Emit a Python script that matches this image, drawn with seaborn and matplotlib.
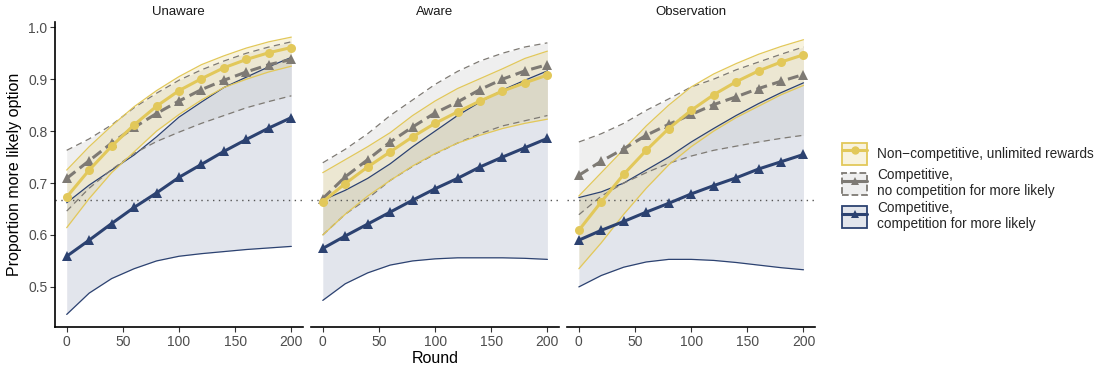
import numpy as np
import pandas as pd
import seaborn as sns
import matplotlib.pyplot as plt
from matplotlib.colors import to_rgb
from matplotlib.patches import Patch
from matplotlib.lines import Line2D
from matplotlib.legend_handler import HandlerTuple

sns.set_theme(style="white")
plt.rcParams['font.family'] = ['Liberation Sans', 'DejaVu Sans']

rounds = [0, 20, 40, 60, 80, 100, 120, 140, 160, 180, 200]
panels = ["Unaware", "Aware", "Observation"]

# Non-competitive, unlimited rewards
noncomp_mean = {
    "Unaware":     [0.673, 0.725, 0.771, 0.812, 0.848, 0.878, 0.901, 0.922, 0.938, 0.951, 0.961],
    "Aware":       [0.664, 0.699, 0.731, 0.760, 0.789, 0.815, 0.837, 0.858, 0.877, 0.893, 0.908],
    "Observation": [0.609, 0.664, 0.717, 0.763, 0.805, 0.840, 0.870, 0.895, 0.916, 0.933, 0.947],
}
noncomp_hi = {
    "Unaware":     [0.725, 0.770, 0.810, 0.847, 0.878, 0.905, 0.928, 0.945, 0.960, 0.972, 0.981],
    "Aware":       [0.720, 0.745, 0.770, 0.797, 0.830, 0.858, 0.882, 0.901, 0.920, 0.940, 0.954],
    "Observation": [0.675, 0.720, 0.765, 0.810, 0.850, 0.885, 0.910, 0.930, 0.948, 0.963, 0.976],
}
noncomp_lo = {
    "Unaware":     [0.614, 0.670, 0.720, 0.760, 0.800, 0.832, 0.860, 0.884, 0.900, 0.914, 0.925],
    "Aware":       [0.600, 0.640, 0.675, 0.705, 0.733, 0.757, 0.777, 0.792, 0.805, 0.815, 0.823],
    "Observation": [0.535, 0.585, 0.640, 0.690, 0.735, 0.770, 0.800, 0.826, 0.848, 0.870, 0.888],
}

# Competitive, no competition for more likely
nocomp_mean = {
    "Unaware":     [0.709, 0.743, 0.777, 0.807, 0.834, 0.858, 0.880, 0.898, 0.914, 0.928, 0.938],
    "Aware":       [0.670, 0.712, 0.745, 0.779, 0.808, 0.835, 0.856, 0.880, 0.900, 0.916, 0.928],
    "Observation": [0.715, 0.742, 0.766, 0.792, 0.813, 0.832, 0.851, 0.866, 0.882, 0.896, 0.909],
}
nocomp_hi = {
    "Unaware":     [0.763, 0.785, 0.812, 0.845, 0.873, 0.898, 0.918, 0.935, 0.950, 0.962, 0.972],
    "Aware":       [0.739, 0.765, 0.795, 0.830, 0.860, 0.890, 0.915, 0.935, 0.950, 0.962, 0.970],
    "Observation": [0.779, 0.795, 0.815, 0.840, 0.862, 0.885, 0.900, 0.918, 0.933, 0.948, 0.962],
}
nocomp_lo = {
    "Unaware":     [0.646, 0.690, 0.726, 0.757, 0.780, 0.798, 0.815, 0.830, 0.845, 0.857, 0.868],
    "Aware":       [0.600, 0.640, 0.670, 0.705, 0.732, 0.756, 0.777, 0.795, 0.810, 0.820, 0.830],
    "Observation": [0.639, 0.675, 0.700, 0.720, 0.738, 0.752, 0.763, 0.771, 0.779, 0.786, 0.792],
}

# Competitive, competition for more likely
comp_mean = {
    "Unaware":     [0.559, 0.590, 0.622, 0.653, 0.681, 0.711, 0.736, 0.761, 0.784, 0.806, 0.826],
    "Aware":       [0.574, 0.598, 0.621, 0.644, 0.667, 0.689, 0.709, 0.731, 0.750, 0.768, 0.786],
    "Observation": [0.590, 0.609, 0.626, 0.644, 0.661, 0.679, 0.695, 0.710, 0.727, 0.741, 0.755],
}
comp_hi = {
    "Unaware":     [0.662, 0.696, 0.725, 0.754, 0.789, 0.827, 0.856, 0.884, 0.904, 0.924, 0.942],
    "Aware":       [0.667, 0.686, 0.709, 0.737, 0.770, 0.800, 0.830, 0.856, 0.879, 0.898, 0.916],
    "Observation": [0.672, 0.683, 0.700, 0.725, 0.750, 0.779, 0.805, 0.830, 0.853, 0.874, 0.893],
}
comp_lo = {
    "Unaware":     [0.447, 0.488, 0.516, 0.535, 0.550, 0.559, 0.564, 0.568, 0.572, 0.575, 0.578],
    "Aware":       [0.474, 0.506, 0.527, 0.542, 0.550, 0.554, 0.556, 0.556, 0.556, 0.555, 0.553],
    "Observation": [0.500, 0.522, 0.538, 0.548, 0.553, 0.553, 0.551, 0.547, 0.542, 0.537, 0.533],
}

chance = 2 / 3
x_ticks = [0, 50, 100, 150, 200]
y_ticks = [0.5, 0.6, 0.7, 0.8, 0.9, 1.0]

YELLOW = "#E2C85A"
GREY = "#7E7A74"
NAVY = "#2C4271"

series = [
    dict(label="Non\u2212competitive, unlimited rewards", mean=noncomp_mean, hi=noncomp_hi, lo=noncomp_lo,
         color=YELLOW, fill="#E6D27E", falpha=0.25, ls="-", marker="o", ms=6.5, edge_ls="-"),
    dict(label="Competitive,\nno competition for more likely", mean=nocomp_mean, hi=nocomp_hi, lo=nocomp_lo,
         color=GREY, fill="#B8B8B8", falpha=0.22, ls=(0, (3.6, 1.8)), marker="^", ms=7, edge_ls=(0, (5, 3.5))),
    dict(label="Competitive,\ncompetition for more likely", mean=comp_mean, hi=comp_hi, lo=comp_lo,
         color=NAVY, fill="#9AA2BC", falpha=0.28, ls="-", marker="^", ms=7, edge_ls="-"),
]

fig, axes = plt.subplots(1, 3, figsize=(10.98, 3.74), dpi=100, sharey=True)
fig.subplots_adjust(left=0.050, right=0.742, bottom=0.126, top=0.941, wspace=0.034)

draw_order = [2, 1, 0]
for ax, panel in zip(axes, panels):
    # confidence ribbons
    for i in draw_order:
        s = series[i]
        ax.fill_between(rounds, s["lo"][panel], s["hi"][panel], color=s["fill"], alpha=s["falpha"],
                        linewidth=0, zorder=1)
    for i in draw_order:
        s = series[i]
        for bound in (s["lo"][panel], s["hi"][panel]):
            ax.plot(rounds, bound, color=s["color"], lw=0.9, ls=s["edge_ls"], zorder=2)
    ax.axhline(chance, color="#555555", lw=1.0, ls=(0, (1, 3.2)), zorder=2.5)
    # fitted means
    for i in draw_order:
        s = series[i]
        df = pd.DataFrame({"Round": rounds, "p": s["mean"][panel]})
        sns.lineplot(data=df, x="Round", y="p", ax=ax, color=s["color"], lw=2.2,
                     marker=s["marker"], markersize=s["ms"], markeredgewidth=0,
                     linestyle=s["ls"], zorder=3)

    ax.set_xlim(-10.5, 210)
    ax.set_ylim(0.423, 1.01)
    ax.set_xticks(x_ticks)
    ax.set_xticklabels([str(t) for t in x_ticks])
    ax.set_yticks(y_ticks)
    ax.set_yticklabels([f"{t:.1f}" for t in y_ticks])
    ax.tick_params(axis="both", labelsize=10, labelcolor="#4D4D4D", colors="#333333",
                   length=3.5, width=0.8, pad=2)
    ax.tick_params(axis="x", bottom=True)
    ax.set_title(panel, fontsize=9.5, color="#1A1A1A", pad=5)
    for side in ("top", "right"):
        ax.spines[side].set_visible(False)
    ax.spines["bottom"].set_color("black")
    ax.spines["bottom"].set_linewidth(1.2)
    ax.set_xlabel("")
    ax.set_ylabel("")

axes[0].spines["left"].set_color("black")
axes[0].spines["left"].set_linewidth(1.2)
axes[0].tick_params(axis="y", left=True)
for ax in axes[1:]:
    ax.spines["left"].set_visible(False)
    ax.tick_params(axis="y", left=False, labelleft=False)

axes[0].set_ylabel("Proportion more likely option", fontsize=11.5, color="black", labelpad=4)
axes[1].set_xlabel("Round", fontsize=11.5, color="black", labelpad=2)

handles = []
labels = []
for s in series:
    patch = Patch(facecolor=(*to_rgb(s["fill"]), s["falpha"]), edgecolor=s["color"], linewidth=1.3,
                  linestyle="--" if s["edge_ls"] != "-" else "-")
    line = Line2D([], [], color=s["color"], lw=2.2, marker=s["marker"], markersize=6,
                  markeredgewidth=0)
    handles.append((patch, line))
    labels.append(s["label"])

fig.legend(handles, labels, handler_map={tuple: HandlerTuple(ndivide=1)},
           loc="center left", bbox_to_anchor=(0.762, 0.50), frameon=False,
           fontsize=9.8, handlelength=1.85, handleheight=2.1, labelspacing=0.22,
           handletextpad=0.7, borderaxespad=0)

fig.savefig("out.png", dpi=100)
